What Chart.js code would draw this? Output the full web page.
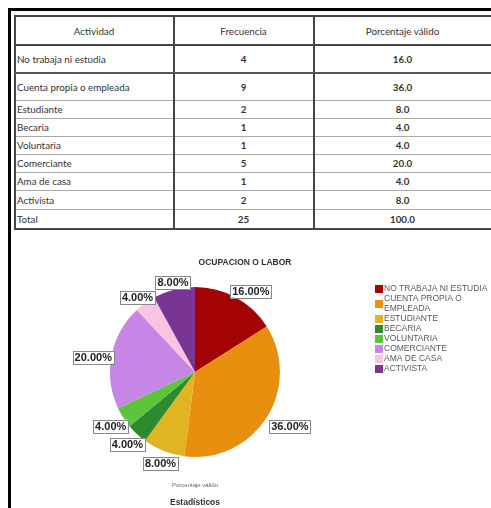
<!DOCTYPE html>
<html lang="es">
<head>
<meta charset="utf-8">
<script src="https://cdn.jsdelivr.net/npm/chart.js@4.4.0/dist/chart.umd.min.js"></script>
<style>
  body { margin: 0; width: 491px; height: 508px; background: #fff; position: relative; overflow: hidden; font-family: Lato, "Open Sans", sans-serif; color: #333; }
  .frameTop { position: absolute; left: 8px; top: 8px; width: 483px; height: 3px; background: #000; }
  .frameLeft { position: absolute; left: 8px; top: 8px; width: 3px; height: 500px; background: #000; }
  table { position: absolute; left: 14px; top: 15px; width: 477px; border-collapse: collapse; table-layout: fixed; font-size: 9.8px; border: 2px solid #444; }
  td { border-top: 1px solid #aaa; border-bottom: 1px solid #aaa; border-left: 2px solid #444; border-right: 2px solid #444; padding: 0 2px 0 1px; white-space: nowrap; overflow: hidden; }
  td.num { text-align: center; font-weight: bold; }
  tr.head td { text-align: center; font-weight: normal; border-bottom: 2px solid #444; }
  tr.r1 td { border-bottom: 2px solid #555; }
  #chart { position: absolute; left: 0; top: 232px; }
</style>
</head>
<body>
<div class="frameTop"></div>
<div class="frameLeft"></div>
<table id="tabla">
  <colgroup><col style="width:159px"><col style="width:140px"><col style="width:178px"></colgroup>
  <tbody id="cuerpo"></tbody>
</table>
<canvas id="chart" width="491" height="276"></canvas>
<script>
// Datos de la tabla y del grafico
const actividades = ['No trabaja ni estudia', 'Cuenta propia o empleada', 'Estudiante', 'Becaria', 'Voluntaria', 'Comerciante', 'Ama de casa', 'Activista'];
const frecuencias = [4, 9, 2, 1, 1, 5, 1, 2];
const porcentajes = [16.0, 36.0, 8.0, 4.0, 4.0, 20.0, 4.0, 8.0];
const leyenda = ['NO TRABAJA NI ESTUDIA', ['CUENTA PROPIA O', 'EMPLEADA'], 'ESTUDIANTE', 'BECARIA', 'VOLUNTARIA', 'COMERCIANTE', 'AMA DE CASA', 'ACTIVISTA'];
const colores = ['#a30303', '#e88f10', '#e0b522', '#2e8a2e', '#5cc53b', '#c785e6', '#f7c4e2', '#7a3594'];
const alturasFilas = [29, 28, 27, 18, 18, 18, 18, 18, 19, 20];

// Tabla
const cuerpo = document.getElementById('cuerpo');
function addRow(cells, cls, h) {
  const tr = document.createElement('tr');
  if (cls) tr.className = cls;
  tr.style.height = h + 'px';
  cells.forEach((c, i) => {
    const td = document.createElement('td');
    td.textContent = c;
    if (i > 0) td.className = 'num';
    tr.appendChild(td);
  });
  cuerpo.appendChild(tr);
}
addRow(['Actividad', 'Frecuencia', 'Porcentaje válido'], 'head', alturasFilas[0]);
actividades.forEach((a, i) => {
  addRow([a, frecuencias[i], porcentajes[i].toFixed(1)], i === 0 ? 'r1' : '', alturasFilas[i + 1]);
});
const totalF = frecuencias.reduce((s, v) => s + v, 0);
const totalP = porcentajes.reduce((s, v) => s + v, 0);
addRow(['Total', totalF, totalP.toFixed(1)], '', alturasFilas[9]);

// Etiquetas con recuadro fuera de cada porcion
const etiquetasPlugin = {
  id: 'etiquetas',
  afterDatasetsDraw(chart) {
    const ctx = chart.ctx;
    const meta = chart.getDatasetMeta(0);
    ctx.save();
    ctx.font = 'bold 11px "Liberation Sans", Arial, sans-serif';
    ctx.textAlign = 'center';
    ctx.textBaseline = 'middle';
    meta.data.forEach((arc, i) => {
      const p = arc.getProps(['x', 'y', 'startAngle', 'endAngle', 'outerRadius'], true);
      const a = (p.startAngle + p.endAngle) / 2;
      const dx = Math.cos(a), dy = Math.sin(a);
      const txt = porcentajes[i].toFixed(2) + '%';
      const w = ctx.measureText(txt).width + 4;
      const h = 13;
      const px = p.x + p.outerRadius * dx;
      const py = p.y + p.outerRadius * dy;
      // un poco desplazado hacia abajo/derecha como en SPSS
      const cx = px + dx * (w / 2 + 2) + 4;
      const cy = py + dy * (h / 2 + 4) + 3;
      ctx.fillStyle = '#fff';
      ctx.fillRect(cx - w / 2, cy - h / 2, w, h);
      ctx.strokeStyle = '#888';
      ctx.lineWidth = 1;
      ctx.strokeRect(Math.round(cx - w / 2) + 0.5, Math.round(cy - h / 2) + 0.5, Math.round(w), h);
      ctx.fillStyle = '#222';
      ctx.fillText(txt, cx, cy + 0.5);
    });
    ctx.restore();
  }
};

// Titulo, leyenda y textos inferiores
const textosPlugin = {
  id: 'textos',
  afterDraw(chart) {
    const ctx = chart.ctx;
    ctx.save();
    ctx.textBaseline = 'middle';
    ctx.fillStyle = '#333';
    ctx.textAlign = 'center';
    ctx.font = 'bold 8.5px "Liberation Sans", Arial, sans-serif';
    ctx.fillText('OCUPACION O LABOR', 245, 31);
    ctx.font = '6px "Liberation Sans", Arial, sans-serif';
    ctx.fillStyle = '#666';
    ctx.fillText('Porcentaje válido', 195, 253);
    ctx.font = 'bold 8.5px "Liberation Sans", Arial, sans-serif';
    ctx.fillStyle = '#333';
    ctx.fillText('Estadísticos', 195, 271);

    // leyenda
    ctx.textAlign = 'left';
    ctx.font = '8.5px "Liberation Sans", Arial, sans-serif';
    let y = 57;
    leyenda.forEach((item, i) => {
      const lineas = Array.isArray(item) ? item : [item];
      const centro = y + (lineas.length - 1) * 5;
      ctx.fillStyle = colores[i];
      ctx.fillRect(375, centro - 4, 8, 8);
      ctx.fillStyle = '#5a5a5a';
      lineas.forEach((l, k) => ctx.fillText(l, 384, y + k * 10));
      y += lineas.length * 10;
    });
    ctx.restore();
  }
};

new Chart(document.getElementById('chart'), {
  type: 'pie',
  data: {
    labels: actividades,
    datasets: [{
      data: porcentajes,
      backgroundColor: colores,
      borderWidth: 0
    }]
  },
  options: {
    responsive: false,
    animation: false,
    layout: { padding: { left: 110, right: 211, top: 55, bottom: 51 } },
    plugins: {
      legend: { display: false },
      tooltip: { enabled: false }
    }
  },
  plugins: [etiquetasPlugin, textosPlugin]
});
</script>
</body>
</html>
